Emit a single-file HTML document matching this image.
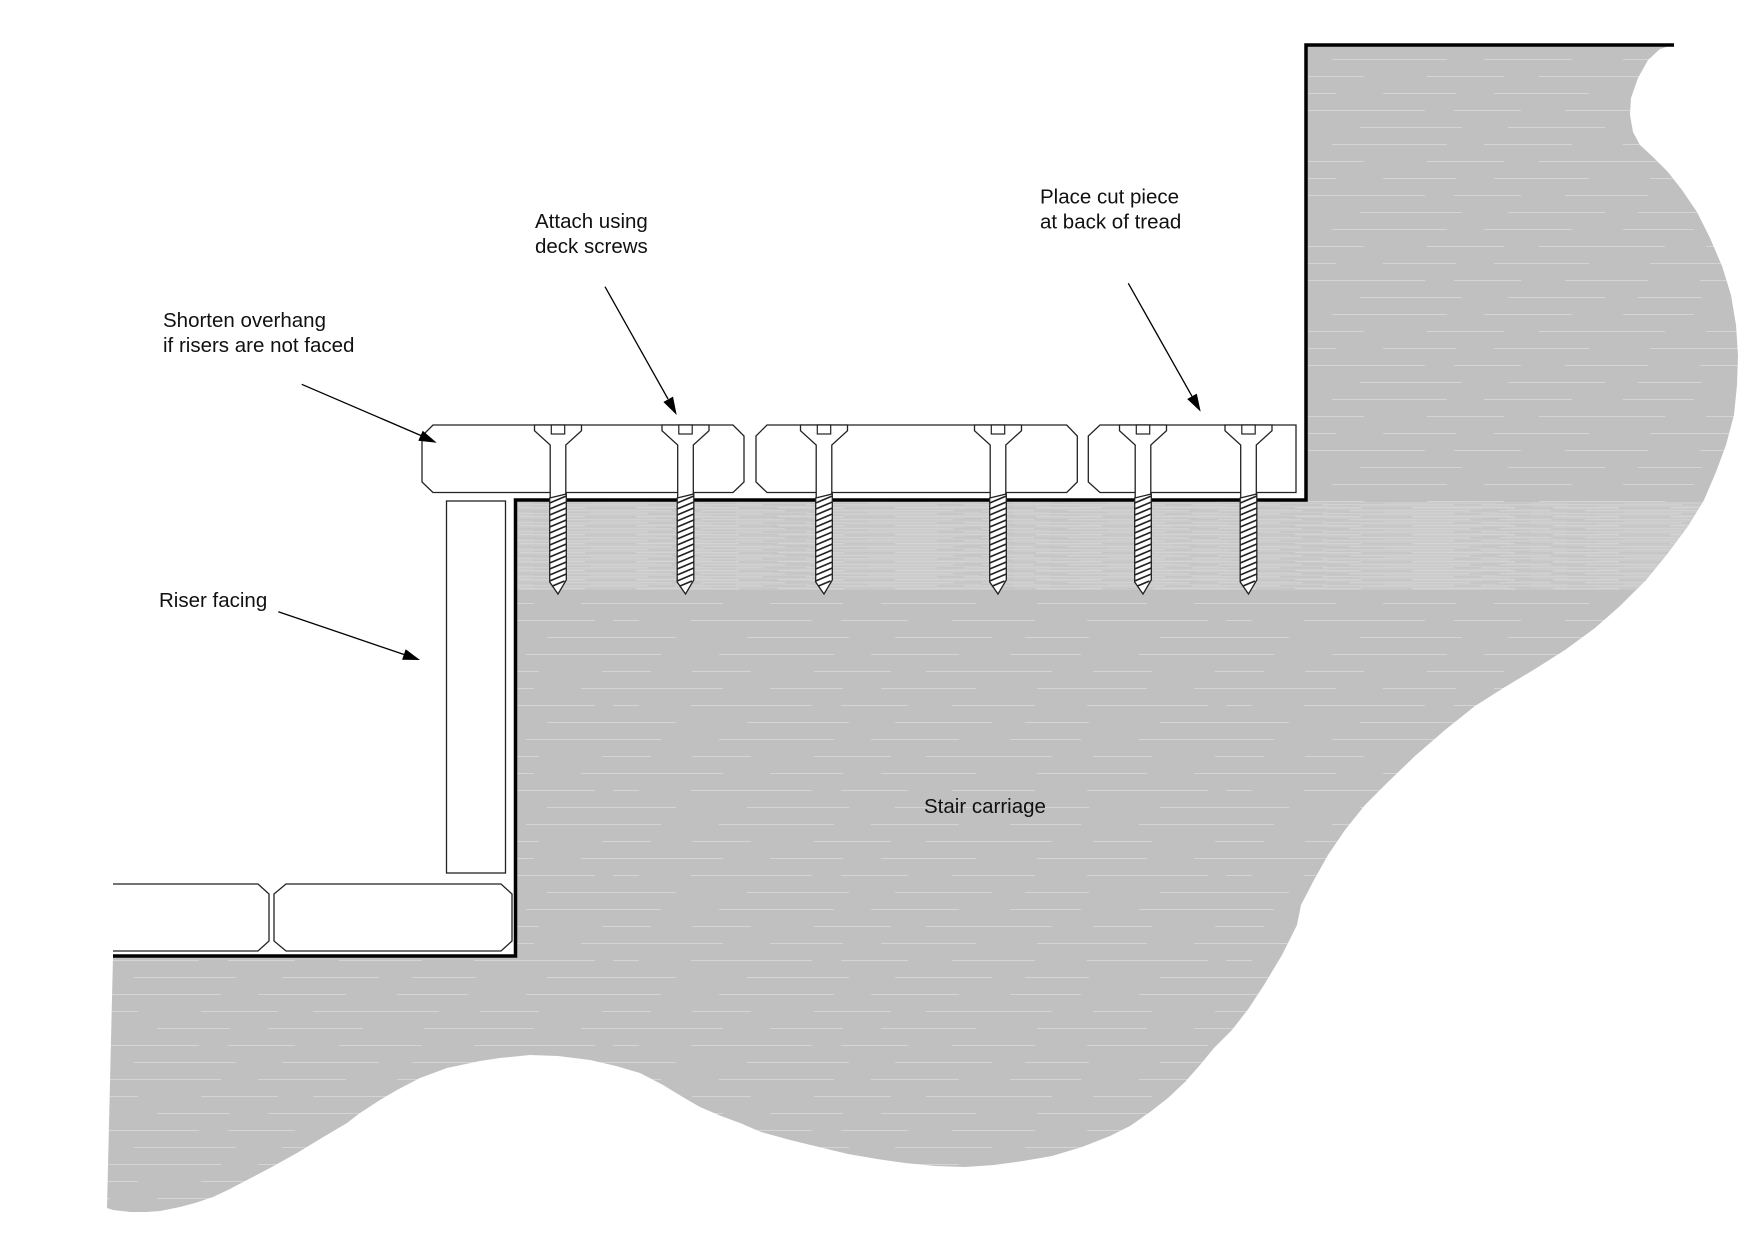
<!DOCTYPE html>
<html>
<head>
<meta charset="utf-8">
<style>
  html, body { margin: 0; padding: 0; background: #ffffff; }
  svg { display: block; }
  text { font-family: "Liberation Sans", Arial, sans-serif; font-size: 20.5px; fill: #111; }
</style>
</head>
<body>
<svg width="1755" height="1240" viewBox="0 0 1755 1240" xmlns="http://www.w3.org/2000/svg">
  <defs>
    <pattern id="hatch" patternUnits="userSpaceOnUse" width="613" height="85">
      <rect x="0" y="0" width="613" height="85" fill="#c0c0c0"/>
      <g stroke="#d4d4d4" stroke-width="0.9" fill="none">
        <line x1="0" y1="8.5" x2="613" y2="8.5" stroke-dasharray="110 47 73 38 95 61" stroke-dashoffset="0"/>
        <line x1="0" y1="25.5" x2="613" y2="25.5" stroke-dasharray="83 52 121 29 67 44" stroke-dashoffset="57"/>
        <line x1="0" y1="42.5" x2="613" y2="42.5" stroke-dasharray="97 33 64 71 102 46" stroke-dashoffset="131"/>
        <line x1="0" y1="59.5" x2="613" y2="59.5" stroke-dasharray="71 58 115 37 88 51" stroke-dashoffset="23"/>
        <line x1="0" y1="76.5" x2="613" y2="76.5" stroke-dasharray="126 41 59 63 77 35" stroke-dashoffset="88"/>
      </g>
    </pattern>
    <pattern id="band" patternUnits="userSpaceOnUse" width="517" height="9">
      <rect x="0" y="0" width="517" height="9" fill="#c6c6c6"/>
      <g stroke-width="1" fill="none">
        <line x1="0" y1="0.75" x2="517" y2="0.75" stroke="#d5d5d5" stroke-dasharray="131 27 88 43" stroke-dashoffset="0"/>
        <line x1="0" y1="2.25" x2="517" y2="2.25" stroke="#cecece" stroke-dasharray="77 31 149 22" stroke-dashoffset="61"/>
        <line x1="0" y1="3.75" x2="517" y2="3.75" stroke="#d8d8d8" stroke-dasharray="103 39 66 51" stroke-dashoffset="140"/>
        <line x1="0" y1="5.25" x2="517" y2="5.25" stroke="#cccccc" stroke-dasharray="157 24 92 36" stroke-dashoffset="18"/>
        <line x1="0" y1="6.75" x2="517" y2="6.75" stroke="#d6d6d6" stroke-dasharray="84 47 121 29" stroke-dashoffset="97"/>
        <line x1="0" y1="8.25" x2="517" y2="8.25" stroke="#cfcfcf" stroke-dasharray="112 33 74 58" stroke-dashoffset="203"/>
      </g>
    </pattern>
    <clipPath id="shapeClip">
      <path id="shapePath" d="M113 956 L515.5 956 L515.5 500 L1306 500 L1306 45 L1673 45
        L1660 49 L1648 60 L1638 78 L1631 98 L1630 115 L1633 132 L1640 145 L1653 157
        L1668 172 L1682 190 L1697 212 L1710 238 L1722 266 L1731 295 L1736 325 L1738 355
        L1737 385 L1734 415 L1726 445 L1716 472 L1704 500 L1688 526 L1668 553 L1646 580
        L1620 606 L1595 628 L1565 650 L1535 669 L1505 687 L1475 706 L1445 730 L1415 756
        L1388 782 L1365 805 L1345 830 L1328 855 L1314 880 L1301 905 L1297 925 L1282 955
        L1264 985 L1249 1008 L1232 1030 L1214 1048 L1200 1065 L1185 1082 L1168 1098
        L1150 1112 L1130 1126 L1110 1136 L1082 1147 L1052 1156 L1023 1161 L994 1165
        L965 1167 L935 1166 L905 1163 L877 1159 L848 1154 L819 1147 L790 1140 L761 1132
        L740 1123 L721 1116 L700 1107 L686 1099 L663 1085 L640 1073 L616 1066 L590 1060
        L558 1056 L530 1055 L500 1058 L480 1061 L447 1068 L420 1078 L397 1090 L380 1100
        L360 1113 L347 1123 L320 1139 L297 1153 L270 1168 L247 1180 L230 1189 L213 1197
        L195 1203 L180 1207 L160 1211 L147 1212 L130 1212 L113 1210 L107 1208 Z"/>
    </clipPath>
    <g id="screw">
      <path d="M-23.5 425 L23.5 425 L23.5 430.7 L7.8 445 L7.8 498 L-7.8 498 L-7.8 445 L-23.5 430.7 Z" fill="#fff" stroke="#222" stroke-width="1.3" stroke-linejoin="miter"/>
      <rect x="-6.7" y="425" width="13.4" height="9" fill="#fff" stroke="#222" stroke-width="1.2"/>
      <path d="M-8.3 498 L8.3 494 L8.3 580 L0 594 L-8.3 582 Z" fill="#fff" stroke="#222" stroke-width="1.3"/>
      <g stroke="#222" stroke-width="1.7">
        <line x1="-8.3" y1="503" x2="8.3" y2="496"/>
        <line x1="-8.3" y1="509" x2="8.3" y2="502"/>
        <line x1="-8.3" y1="515" x2="8.3" y2="508"/>
        <line x1="-8.3" y1="521" x2="8.3" y2="514"/>
        <line x1="-8.3" y1="527" x2="8.3" y2="520"/>
        <line x1="-8.3" y1="533" x2="8.3" y2="526"/>
        <line x1="-8.3" y1="539" x2="8.3" y2="532"/>
        <line x1="-8.3" y1="545" x2="8.3" y2="538"/>
        <line x1="-8.3" y1="551" x2="8.3" y2="544"/>
        <line x1="-8.3" y1="557" x2="8.3" y2="550"/>
        <line x1="-8.3" y1="563" x2="8.3" y2="556"/>
        <line x1="-8.3" y1="569" x2="8.3" y2="562"/>
        <line x1="-8.3" y1="575" x2="8.3" y2="568"/>
        <line x1="-8.3" y1="581" x2="8.3" y2="574"/>
        <line x1="-5.5" y1="586" x2="6.5" y2="581"/>
      </g>
    </g>
  </defs>

  <!-- Stair carriage fill -->
  <use href="#shapePath" fill="url(#hatch)"/>
  <g clip-path="url(#shapeClip)">
    <rect x="517" y="502" width="1240" height="88" fill="url(#band)"/>
  </g>

  <!-- Thick outline -->
  <path d="M113 956 L515.5 956 L515.5 500 L1306 500 L1306 45 L1674 45" fill="none" stroke="#000" stroke-width="3.5" stroke-linejoin="miter"/>

  <!-- Upper treads -->
  <g fill="#fff" stroke="#222" stroke-width="1.3">
    <path d="M433 425 L733 425 L744 436 L744 482 L733 492.5 L433 492.5 L422 482 L422 436 Z"/>
    <path d="M767 425 L1066.7 425 L1077.3 436 L1077.3 482 L1066.7 492.5 L767 492.5 L756 482 L756 436 Z"/>
    <path d="M1100 425 L1296 425 L1296 492.5 L1100 492.5 L1088.3 482 L1088.3 436 Z"/>
  </g>

  <!-- Lower boards -->
  <g fill="#fff" stroke="#222" stroke-width="1.3">
    <path d="M113 884 L258 884 L269 894 L269 941 L258 951 L113 951"/>
    <path d="M286 884 L501 884 L512 894 L512 941 L501 951 L286 951 L274 941 L274 894 Z"/>
  </g>

  <!-- Riser facing -->
  <rect x="446.5" y="501" width="59" height="372" fill="#fff" stroke="#222" stroke-width="1.3"/>

  <!-- Screws -->
  <use href="#screw" x="558" y="0"/>
  <use href="#screw" x="685.5" y="0"/>
  <use href="#screw" x="824" y="0"/>
  <use href="#screw" x="998" y="0"/>
  <use href="#screw" x="1143" y="0"/>
  <use href="#screw" x="1248.5" y="0"/>

  <!-- Leader lines -->
  <g stroke="#000" stroke-width="1.3">
    <line x1="301.7" y1="384.3" x2="422" y2="436"/>
    <line x1="605" y1="286.7" x2="668" y2="399"/>
    <line x1="1128.3" y1="283.3" x2="1192" y2="396.3"/>
    <line x1="278.3" y1="611.7" x2="404" y2="654.5"/>
  </g>
  <g fill="#000">
    <polygon points="436.7,442.7 418.3,440.8 422.7,430.8"/>
    <polygon points="676.7,415 663.4,402 673,396.6"/>
    <polygon points="1200.7,411.7 1187.2,399 1196.8,393.6"/>
    <polygon points="420,660 402.1,659.7 405.7,649.3"/>
  </g>

  <!-- Labels -->
  <text x="163" y="327">Shorten overhang</text>
  <text x="163" y="352">if risers are not faced</text>
  <text x="535" y="228">Attach using</text>
  <text x="535" y="253">deck screws</text>
  <text x="1040" y="203.5">Place cut piece</text>
  <text x="1040" y="228.5">at back of tread</text>
  <text x="159" y="607">Riser facing</text>
  <text x="924" y="813">Stair carriage</text>
</svg>
</body>
</html>
